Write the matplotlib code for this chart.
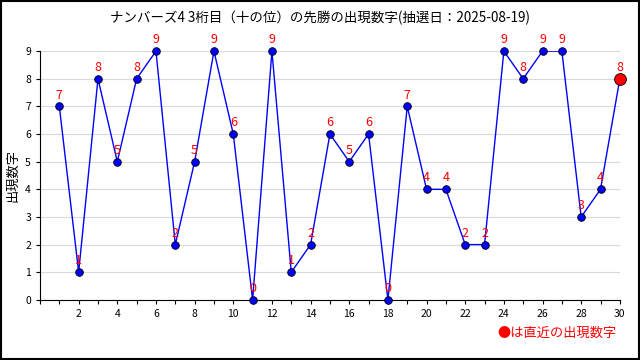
import matplotlib.pyplot as plt

plt.rcParams['font.family'] = ['Noto Sans CJK JP', 'DejaVu Sans']

draws = list(range(1, 31))
digits = [7, 1, 8, 5, 8, 9, 2, 5, 9, 6, 0, 9, 1, 2, 6, 5, 6, 0, 7, 4,
          4, 2, 2, 9, 8, 9, 9, 3, 4, 8]
title = "ナンバーズ4 3桁目（十の位）の先勝の出現数字(抽選日：2025-08-19)"
ylabel = "出現数字"
note = "●は直近の出現数字"

fig = plt.figure(figsize=(6.4, 3.6), dpi=100)
fig.patches.append(plt.Rectangle((0.0008, 0.0014), 0.9984, 0.997, transform=fig.transFigure,
                                 fill=False, edgecolor="black", linewidth=1.5))
ax = fig.add_axes([0.0625, 0.167, 0.906, 0.691])

ax.plot(draws, digits, color="blue", linewidth=1, zorder=3)
ax.plot(draws[:-1], digits[:-1], "o", color="blue", markeredgecolor="black",
        markeredgewidth=0.6, markersize=5.5, zorder=4, clip_on=False)
ax.plot(draws[-1:], digits[-1:], "o", color="red", markeredgecolor="black",
        markeredgewidth=0.6, markersize=8.5, zorder=5, clip_on=False)

for x, y in zip(draws, digits):
    ax.annotate(str(y), (x, y), xytext=(0, 3.5), textcoords="offset points",
                ha="center", va="bottom", color="red", fontsize=9, zorder=6,
                annotation_clip=False)

ax.set_xlim(0, 30)
ax.set_ylim(0, 9)
ax.set_xticks(range(2, 31, 2))
ax.set_xticks(range(0, 31), minor=True)
ax.set_yticks(range(0, 10))
ax.tick_params(axis="both", labelsize=7.5, length=3, width=0.8, colors="black")
ax.tick_params(axis="x", which="minor", length=3, width=0.8)
ax.grid(axis="y", color="#d9d9d9", linewidth=0.8)
ax.set_axisbelow(True)
for side in ("top", "right"):
    ax.spines[side].set_visible(False)
ax.set_ylabel(ylabel, fontsize=9.5)
ax.yaxis.set_label_coords(-0.036, 0.5)

fig.text(0.5, 0.95, title, ha="center", va="center", fontsize=9.7)
fig.text(0.964, 0.075, note, ha="right", va="center", fontsize=9.5, color="red")

fig.savefig("out.png", dpi=100)
